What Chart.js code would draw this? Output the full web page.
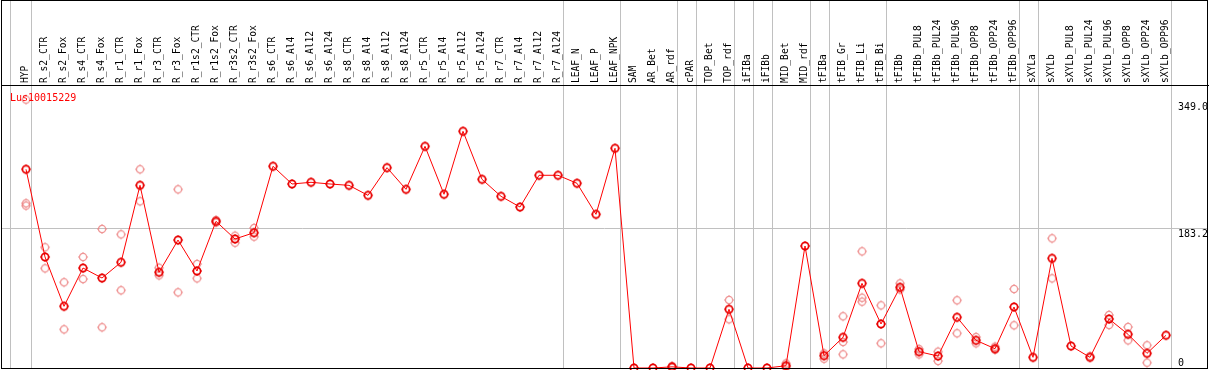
<!DOCTYPE html>
<html lang="en">
<head>
<meta charset="UTF-8">
<title>Lus10015229</title>
<script src="https://cdn.jsdelivr.net/npm/chart.js@4.4.1/dist/chart.umd.min.js"></script>
<style>
  html, body { margin: 0; padding: 0; background: #fff; }
  #wrap { position: relative; width: 1209px; height: 370px; }
</style>
</head>
<body>
<div id="wrap"><canvas id="expr" width="1209" height="370"></canvas></div>
<script>
// --- data ---
const geneId = 'Lus10015229';

const sampleNames = [
  'HYP', 'R_s2_CTR', 'R_s2_Fox', 'R_s4_CTR', 'R_s4_Fox', 'R_r1_CTR', 'R_r1_Fox',
  'R_r3_CTR', 'R_r3_Fox', 'R_r1s2_CTR', 'R_r1s2_Fox', 'R_r3s2_CTR', 'R_r3s2_Fox',
  'R_s6_CTR', 'R_s6_Al4', 'R_s6_Al12', 'R_s6_Al24', 'R_s8_CTR', 'R_s8_Al4', 'R_s8_Al12',
  'R_s8_Al24', 'R_r5_CTR', 'R_r5_Al4', 'R_r5_Al12', 'R_r5_Al24', 'R_r7_CTR', 'R_r7_Al4',
  'R_r7_Al12', 'R_r7_Al24', 'LEAF_N', 'LEAF_P', 'LEAF_NPK', 'SAM', 'AR_Bet', 'AR_rdf',
  'cPAR', 'TOP_Bet', 'TOP_rdf', 'iFIBa', 'iFIBb', 'MID_Bet', 'MID_rdf', 'tFIBa',
  'tFIB_Gr', 'tFIB_Li', 'tFIB_Bi', 'tFIBb', 'tFIBb_PUL8', 'tFIBb_PUL24', 'tFIBb_PUL96',
  'tFIBb_OPP8', 'tFIBb_OPP24', 'tFIBb_OPP96', 'sXYLa', 'sXYLb', 'sXYLb_PUL8',
  'sXYLb_PUL24', 'sXYLb_PUL96', 'sXYLb_OPP8', 'sXYLb_OPP24', 'sXYLb_OPP96'
];

const meanLevels = [
  260.6, 145.6, 80.9, 131.1, 118.0, 138.6, 239.6,
  125.5, 167.8, 127.2, 192.3, 169.2, 177.4,
  264.5, 241.3, 243.5, 241.3, 239.5, 226.4, 262.7,
  234.3, 290.7, 227.8, 310.4, 247.4, 225.1, 211.1,
  252.7, 252.7, 242.2, 201.5, 288.1, 0, 0, 1.5,
  0, 0, 77.0, 0, 0, 3.0, 160.0, 16.2,
  40.2, 111.0, 57.7, 105.8, 21.4, 15.7, 66.5,
  36.3, 25.3, 80.0, 14.0, 143.8, 28.8,
  14.0, 64.3, 44.2, 19.2, 42.9
];

// individual replicates that show apart from the mean marker
const replicateLevels = [
  [352, 216, 213], [158.3, 130.7], [112.4, 50.7], [145.6, 116.7], [182.3, 53.4], [175.3, 101.9], [260.6, 218.6],
  [131.5, 121.5], [234.3, 99.2], [136.4, 117.6], [194, 191], [173.5, 164.3], [183.6, 172.2],
  [], [], [], [], [], [], [],
  [], [], [], [], [], [], [],
  [], [], [], [], [], [], [], [2.5, 0.5],
  [], [], [89.2, 63.9], [], [], [6, 1], [], [19.2, 12.2],
  [67.8, 34.1, 17.9], [153, 92.2, 87], [82.2, 32.4], [111, 103], [24.9, 17.9], [21.4, 9.2], [88.8, 45.5],
  [40.6, 32.4], [28, 24], [103.6, 56], [], [170, 117.6], [],
  [15.5], [69.5, 56.4], [53.8, 36.3], [29.8, 7], []
];

const axisTicks = [0, 183.2, 349.0];

// grey separators: one before the first sample, then after the last sample of each group
const leadingBreak = -0.84;
const groupEnds = [0, 28, 31, 34, 35, 37, 38, 39, 41, 42, 45, 52, 53, 60];

// --- markers: small ring with four spurs ---
function makeMarker(color, lw) {
  const c = document.createElement('canvas');
  c.width = 12; c.height = 12;
  const g = c.getContext('2d');
  g.strokeStyle = color;
  g.lineWidth = lw;
  g.beginPath();
  g.arc(6, 6, 3.6, 0, Math.PI * 2);
  g.stroke();
  g.fillStyle = color;
  g.fillRect(5.5, 1, 1, 1);
  g.fillRect(5.5, 10, 1, 1);
  g.fillRect(1, 5.5, 1, 1);
  g.fillRect(10, 5.5, 1, 1);
  return c;
}
const meanMarker = makeMarker('#e80000', 1.7);
const repMarker = makeMarker('rgba(236,130,130,0.85)', 1.3);

const meanPoints = meanLevels.map((v, i) => ({ x: i, y: v }));
const repPoints = [];
replicateLevels.forEach((reps, i) => reps.forEach(v => repPoints.push({ x: i, y: v })));

const monoFont = '"DejaVu Sans Mono", "Liberation Mono", monospace';

const framePlugin = {
  id: 'frame',
  beforeDatasetsDraw(chart) {
    const { ctx, chartArea: a, scales: { x } } = chart;
    ctx.save();
    ctx.strokeStyle = '#c0c0c0';
    ctx.lineWidth = 1;
    const breaks = [leadingBreak].concat(groupEnds.map(i => i + 0.24));
    breaks.forEach(v => {
      const px = Math.round(x.getPixelForValue(v)) + 0.5;
      ctx.beginPath();
      ctx.moveTo(px, 0);
      ctx.lineTo(px, a.bottom);
      ctx.stroke();
    });
    ctx.restore();
  },
  afterDraw(chart) {
    const { ctx, scales: { x, y } } = chart;
    ctx.save();
    // sample names, reading bottom to top
    ctx.fillStyle = '#000';
    ctx.font = '9.6px ' + monoFont;
    ctx.textAlign = 'left';
    ctx.textBaseline = 'middle';
    sampleNames.forEach((name, i) => {
      const px = x.getPixelForValue(i) - 0.5;
      ctx.save();
      ctx.translate(px, 83);
      ctx.rotate(-Math.PI / 2);
      ctx.fillText(name, 0, 0);
      ctx.restore();
    });
    // value labels on the right, inside the frame
    ctx.font = '10px ' + monoFont;
    ctx.textBaseline = 'alphabetic';
    axisTicks.forEach(v => {
      const py = y.getPixelForValue(v);
      const text = v === 0 ? '0' : v.toFixed(1);
      ctx.fillText(text, 1178, v === 0 ? py - 2 : py + 8.5);
    });
    // gene id
    ctx.fillStyle = '#ff0000';
    ctx.fillText(geneId, 10, 101);
    // black frame
    ctx.strokeStyle = '#000';
    ctx.lineWidth = 1;
    ctx.strokeRect(1.5, 0.5, 1206, 368);
    ctx.beginPath();
    ctx.moveTo(1, 85.5);
    ctx.lineTo(1209, 85.5);
    ctx.stroke();
    ctx.restore();
  }
};

new Chart(document.getElementById('expr'), {
  type: 'line',
  data: {
    datasets: [
      {
        label: 'mean',
        data: meanPoints,
        borderColor: '#ff0000',
        borderWidth: 1,
        tension: 0,
        pointStyle: meanMarker,
        pointRadius: 6,
        pointHoverRadius: 6,
        clip: false,
        order: 1
      },
      {
        label: 'replicates',
        data: repPoints,
        showLine: false,
        pointStyle: repMarker,
        pointRadius: 6,
        pointHoverRadius: 6,
        clip: false,
        order: 2
      }
    ]
  },
  options: {
    responsive: false,
    devicePixelRatio: 1,
    animation: false,
    layout: { autoPadding: false, padding: { left: 1, right: 1, top: 85, bottom: 2 } },
    plugins: { legend: { display: false }, tooltip: { enabled: false }, title: { display: false } },
    scales: {
      x: {
        type: 'linear',
        min: -1.31579,
        max: 62.2105,
        display: false
      },
      y: {
        type: 'linear',
        position: 'right',
        min: 0,
        max: 371.1,
        afterBuildTicks: s => { s.ticks = axisTicks.map(v => ({ value: v })); },
        border: { display: false },
        grid: {
          drawTicks: false,
          lineWidth: 1,
          color: c => (c.tick && c.tick.value === 183.2) ? '#c0c0c0' : 'rgba(0,0,0,0)'
        },
        ticks: { display: false }
      }
    }
  },
  plugins: [framePlugin]
});
</script>
</body>
</html>
